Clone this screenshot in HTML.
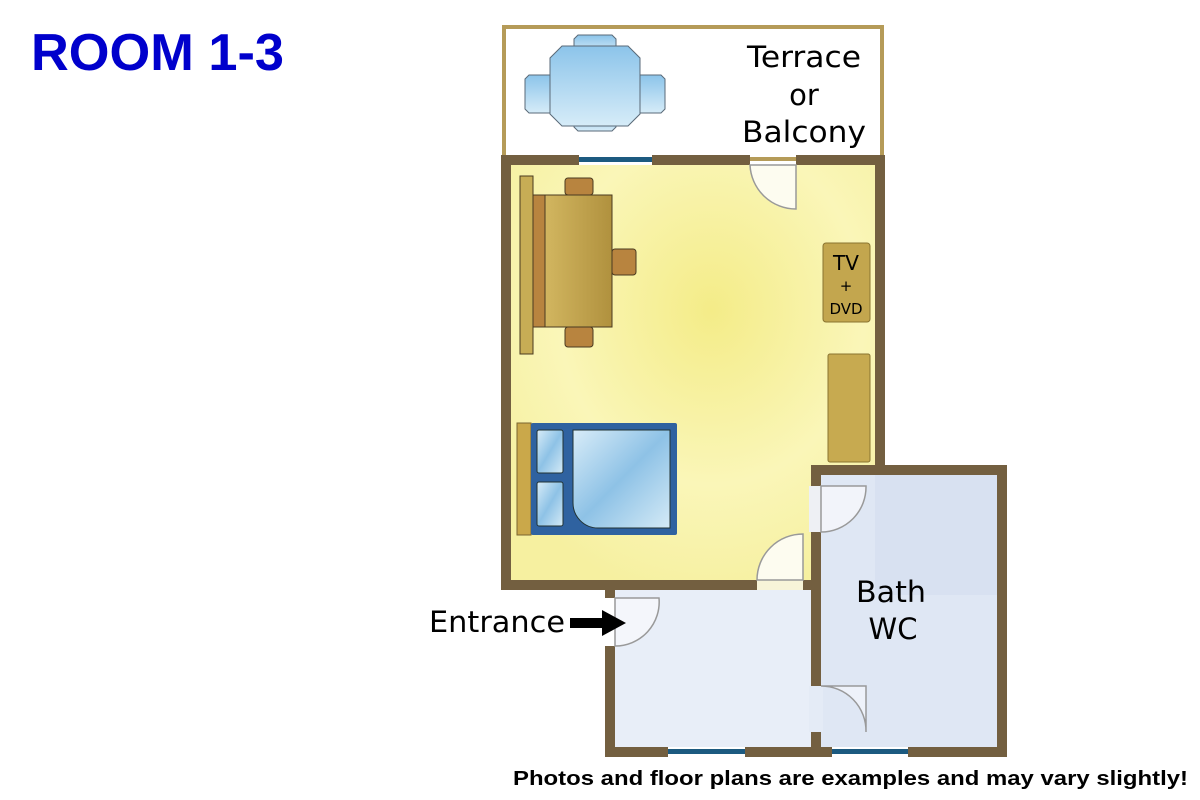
<!DOCTYPE html>
<html><head><meta charset="utf-8"><style>
html,body{margin:0;padding:0;background:#fff;}
svg{display:block;}
</style></head><body>
<svg width="1200" height="800" viewBox="0 0 1200 800" xmlns="http://www.w3.org/2000/svg" font-family="'DejaVu Sans','Liberation Sans',sans-serif">
<defs>
<radialGradient id="yl" cx="0.55" cy="0.35" r="0.7"><stop offset="0" stop-color="#f4ec88"/><stop offset="0.6" stop-color="#faf6b8"/><stop offset="1" stop-color="#f6f0a0"/></radialGradient>
<linearGradient id="wood" x1="0" x2="1"><stop offset="0" stop-color="#d2b660"/><stop offset="1" stop-color="#b0913e"/></linearGradient>
<linearGradient id="bl" x1="0" y1="0" x2="1" y2="1"><stop offset="0" stop-color="#d8ecf8"/><stop offset="0.5" stop-color="#8ec2e6"/><stop offset="1" stop-color="#d4eaf6"/></linearGradient>
<linearGradient id="tb" x1="0" y1="0" x2="0" y2="1"><stop offset="0" stop-color="#8cc4ea"/><stop offset="1" stop-color="#d6ecf8"/></linearGradient>
</defs>
<text x="31" y="70" font-family="'Liberation Sans',sans-serif" font-weight="bold" font-size="52" fill="#0000cc" textLength="253" lengthAdjust="spacingAndGlyphs">ROOM 1-3</text>
<!-- terrace -->
<rect x="504" y="27" width="378" height="132" fill="#fff" stroke="#b59b58" stroke-width="4"/>
<g fill="url(#tb)" stroke="#5a6a78" stroke-width="1">
<path d="M578 35h34l4 4v14h-42v-14z"/>
<path d="M578 131h34l4-4v-14h-42v14z"/>
<path d="M525 79l4-4h22v38h-22l-4-4z"/>
<path d="M665 79l-4-4h-22v38h22l4-4z"/>
<path d="M562 46h66l12 12v56l-12 12h-66l-12-12v-56z"/>
</g>
<text x="804" y="67" font-size="29" text-anchor="middle" textLength="114" lengthAdjust="spacingAndGlyphs">Terrace</text>
<text x="804" y="105" font-size="29" text-anchor="middle">or</text>
<text x="804" y="142" font-size="29" text-anchor="middle" textLength="124" lengthAdjust="spacingAndGlyphs">Balcony</text>
<!-- floors -->
<rect x="511" y="165" width="364" height="415" fill="url(#yl)"/>
<rect x="757" y="578" width="46" height="14" fill="#f7f4d8"/>
<rect x="615" y="590" width="196" height="157" fill="#e8eef8"/>
<rect x="821" y="475" width="176" height="272" fill="#dfe7f4"/>
<rect x="809" y="686" width="14" height="46" fill="#e4ebf6"/>
<rect x="809" y="486" width="14" height="46" fill="#eef0f4"/>
<rect x="875" y="475" width="122" height="120" fill="#d4deef" opacity="0.6"/>
<!-- walls -->
<g fill="#735f40">
<rect x="501" y="155" width="78" height="10"/>
<rect x="652" y="155" width="98" height="10"/>
<rect x="796" y="155" width="89" height="10"/>
<rect x="501" y="155" width="10" height="435"/>
<rect x="875" y="155" width="10" height="320"/>
<rect x="501" y="580" width="256" height="10"/>
<rect x="803" y="580" width="18" height="10"/>
<rect x="811" y="465" width="196" height="10"/>
<rect x="997" y="465" width="10" height="292"/>
<rect x="811" y="465" width="10" height="21"/>
<rect x="811" y="532" width="10" height="154"/>
<rect x="811" y="732" width="10" height="25"/>
<rect x="605" y="590" width="10" height="8"/>
<rect x="605" y="646" width="10" height="111"/>
<rect x="605" y="747" width="63" height="10"/>
<rect x="745" y="747" width="87" height="10"/>
<rect x="908" y="747" width="99" height="10"/>
</g>
<g fill="#1c5a80">
<rect x="579" y="157" width="73" height="5"/>
<rect x="668" y="749" width="77" height="5"/>
<rect x="832" y="749" width="76" height="5"/>
</g>
<!-- doors -->
<g fill="#fdfcf0" stroke="#999" stroke-width="1.5">
<path d="M796 165v44a46 46 0 0 1 -46 -44z"/>
<path d="M803 580v-46a46 46 0 0 0 -46 46z"/>
<path d="M821 486h45a45 45 0 0 1 -45 46z" fill="#f2f4fa"/>
<path d="M821 686h45v46a45 45 0 0 0 -45 -46z" fill="#eef2fa"/>
<path d="M615 598h44a44 44 0 0 1 -44 48z" fill="#f4f6fb"/>
</g>
<!-- desk -->
<g stroke="#4a3a20" stroke-width="1">
<rect x="520" y="176" width="13" height="178" fill="#c7ad55"/>
<rect x="533" y="195" width="12" height="132" fill="#b8843f"/>
<rect x="565" y="178" width="28" height="17" rx="3" fill="#b8843f"/>
<rect x="565" y="327" width="28" height="20" rx="3" fill="#b8843f"/>
<rect x="612" y="249" width="24" height="26" rx="3" fill="#b8843f"/>
<rect x="545" y="195" width="67" height="132" fill="url(#wood)"/>
</g>
<rect x="823" y="243" width="47" height="79" rx="3" fill="#c3a64e" stroke="#8a7430"/>
<text x="846" y="270" font-size="20" text-anchor="middle">TV</text>
<text x="846" y="291" font-size="15" text-anchor="middle">+</text>
<text x="846" y="314" font-size="15" text-anchor="middle">DVD</text>
<rect x="828" y="354" width="42" height="108" rx="2" fill="#c7aa50" stroke="#8a7430"/>
<!-- bed -->
<rect x="517" y="423" width="14" height="112" fill="#caa84a" stroke="#7a6530"/>
<rect x="531" y="423" width="146" height="112" rx="2" fill="#2f62a0"/>
<rect x="537" y="430" width="26" height="43" rx="2" fill="url(#bl)" stroke="#233"/>
<rect x="537" y="482" width="26" height="44" rx="2" fill="url(#bl)" stroke="#233"/>
<path d="M573 430h97v98h-72a25 25 0 0 1 -25 -25z" fill="url(#bl)" stroke="#233"/>
<!-- labels -->
<text x="891" y="602" font-size="29" text-anchor="middle" textLength="70" lengthAdjust="spacingAndGlyphs">Bath</text>
<text x="893" y="639" font-size="29" text-anchor="middle">WC</text>
<text x="429" y="632" font-size="29" textLength="136" lengthAdjust="spacingAndGlyphs">Entrance</text>
<path d="M570 618h32v-8l24 13l-24 13v-8h-32z" fill="#000"/>
<text x="513" y="785" font-family="'Liberation Sans',sans-serif" font-weight="bold" font-size="20" textLength="675" lengthAdjust="spacingAndGlyphs">Photos and floor plans are examples and may vary slightly!</text>
</svg>
</body></html>
